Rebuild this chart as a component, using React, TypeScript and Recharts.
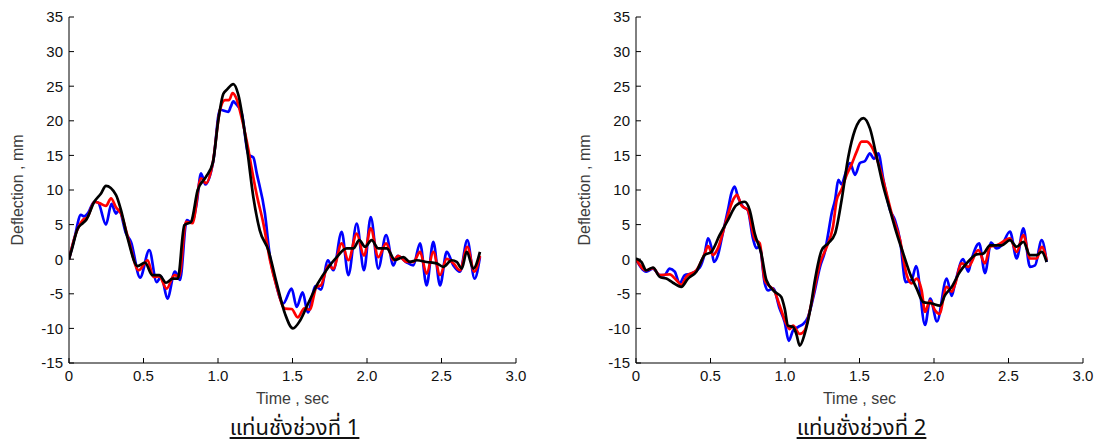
import React from 'react';
import { LineChart, Line, XAxis, YAxis } from 'recharts';

const X_TICKS = [0, 0.5, 1, 1.5, 2, 2.5, 3];
const Y_TICKS = [-15, -10, -5, 0, 5, 10, 15, 20, 25, 30, 35];
const X_TITLE = 'Time , sec';
const Y_TITLE = 'Deflection , mm';
const CAPTION_1 = 'แท่นชั่งช่วงที่ 1';
const CAPTION_2 = 'แท่นชั่งช่วงที่ 2';

// Panel 1 (t in sec, deflection in mm)
const p1Blue: [number, number][] = [
  [0, 0], [0.036, 3.0], [0.08, 6.4], [0.1, 6.2], [0.125, 6.6], [0.17, 8.3], [0.195, 8.2], [0.248, 5.0],
  [0.285, 8.0], [0.315, 6.6], [0.336, 7.1], [0.383, 3.7], [0.416, 2.5], [0.477, -2.65], [0.539, 1.3],
  [0.588, -3.3], [0.62, -2.5], [0.66, -5.7], [0.711, -1.8], [0.745, -3.0], [0.79, 5.65], [0.823, 5.3],
  [0.857, 8.1], [0.886, 12.4], [0.915, 10.8], [0.969, 14.3], [1.013, 21.6], [1.069, 21.3], [1.085, 22.0],
  [1.103, 22.8], [1.114, 22.6], [1.159, 21.1], [1.204, 15.1], [1.237, 14.7], [1.26, 12.4], [1.315, 6.6],
  [1.349, 0.3], [1.383, -3.0], [1.438, -6.4], [1.494, -4.25], [1.528, -6.9], [1.568, -4.8], [1.603, -7.7],
  [1.655, -3.9], [1.69, -4.4], [1.738, -0.15], [1.774, -1.6], [1.83, 3.95], [1.875, -2.3], [1.931, 5.15],
  [1.98, -1.6], [2.025, 6.1], [2.076, -1.35], [2.128, 3.5], [2.177, -0.9], [2.205, 0.5], [2.262, -0.4],
  [2.311, -0.9], [2.356, 2.3], [2.4, -3.8], [2.445, 2.5], [2.49, -3.8], [2.535, 1.05], [2.58, -0.9],
  [2.624, -1.8], [2.673, 2.75], [2.722, -2.8], [2.758, 0.3],
];
const p1Red: [number, number][] = [
  [0, 0], [0.04, 3.3], [0.092, 5.65], [0.125, 6.1], [0.17, 8.3], [0.204, 8.1], [0.248, 7.7], [0.282, 8.8],
  [0.315, 7.5], [0.349, 6.6], [0.394, 3.3], [0.468, -1.6], [0.528, -0.15], [0.566, -2.55], [0.606, -2.5],
  [0.655, -4.25], [0.707, -2.3], [0.74, -2.5], [0.785, 5.4], [0.828, 5.2], [0.886, 11.7], [0.919, 11.0],
  [0.964, 13.8], [1.013, 21.5], [1.047, 23.0], [1.074, 23.0], [1.098, 24.0], [1.12, 23.4], [1.159, 20.4],
  [1.204, 15.8], [1.226, 13.1], [1.26, 9.3], [1.304, 5.2], [1.349, -0.15], [1.394, -4.0], [1.45, -7.15],
  [1.494, -7.2], [1.535, -8.4], [1.58, -7.1], [1.615, -7.3], [1.662, -4.0], [1.69, -3.8], [1.741, -0.9],
  [1.774, -1.35], [1.83, 2.3], [1.875, -0.15], [1.931, 3.7], [1.98, 0.5], [2.025, 4.45], [2.076, 0.3],
  [2.128, 2.3], [2.177, -0.15], [2.21, 0.5], [2.266, -0.4], [2.311, -0.4], [2.356, 1.05], [2.4, -2.1],
  [2.445, 1.05], [2.49, -2.3], [2.535, 0.05], [2.58, -0.6], [2.624, -1.6], [2.673, 1.8], [2.72, -1.8],
  [2.758, 0.5],
];
const p1Black: [number, number][] = [
  [0, 0], [0.02, 1.5], [0.058, 4.4], [0.092, 5.2], [0.114, 5.65], [0.17, 8.3], [0.215, 9.5], [0.248, 10.6],
  [0.315, 9.3], [0.349, 7.1], [0.394, 3.0], [0.461, -1.0], [0.51, -0.5], [0.56, -2.3], [0.606, -2.3],
  [0.651, -3.4], [0.696, -2.8], [0.73, -2.8], [0.774, 4.9], [0.819, 5.4], [0.864, 10.0], [0.919, 11.9],
  [0.966, 14.0], [1.002, 20.1], [1.036, 23.9], [1.06, 24.5], [1.103, 25.3], [1.136, 23.8], [1.193, 16.3],
  [1.237, 9.0], [1.28, 4.2], [1.338, 1.3], [1.394, -3.5], [1.45, -7.9], [1.503, -10.0], [1.55, -8.9],
  [1.605, -6.4], [1.67, -3.5], [1.74, -1.2], [1.797, 0.3], [1.864, 1.55], [1.908, 1.55], [1.948, 2.75],
  [1.987, 1.8], [2.031, 2.75], [2.076, 1.55], [2.132, 1.55], [2.188, -0.1], [2.244, 0.3], [2.289, -0.4],
  [2.334, -0.15], [2.4, -0.4], [2.468, -0.6], [2.512, -1.1], [2.568, -0.15], [2.602, -0.4], [2.636, -1.35],
  [2.669, 1.05], [2.714, -1.35], [2.758, 1.05],
];

// Panel 2
const p2Blue: [number, number][] = [
  [0, 0], [0.069, -1.8], [0.114, -1.35], [0.159, -2.3], [0.19, -2.3], [0.226, -1.35], [0.26, -1.8],
  [0.293, -3.5], [0.327, -2.3], [0.37, -2.1], [0.428, -1.2], [0.461, 0.8], [0.483, 3.0], [0.505, 1.8],
  [0.523, -0.4], [0.55, 0.6], [0.58, 3.5], [0.617, 7.1], [0.64, 9.5], [0.662, 10.5], [0.684, 9.0],
  [0.718, 7.6], [0.75, 7.1], [0.785, 3.0], [0.808, 1.6], [0.83, 1.8], [0.864, -3.5], [0.886, -4.5],
  [0.92, -4.2], [0.964, -7.15], [0.998, -9.1], [1.025, -11.8], [1.054, -10.3], [1.087, -9.8], [1.12, -9.4],
  [1.154, -8.4], [1.19, -5.5], [1.235, -1.1], [1.27, 1.3], [1.29, 3.7], [1.313, 6.6], [1.336, 8.55],
  [1.358, 11.45], [1.38, 10.8], [1.403, 12.2], [1.436, 13.9], [1.47, 12.2], [1.503, 13.9], [1.537, 14.2],
  [1.57, 15.3], [1.597, 14.5], [1.626, 15.3], [1.66, 11.5], [1.705, 7.1], [1.738, 5.65], [1.772, 2.75],
  [1.81, -3.3], [1.85, -3.0], [1.88, -1.0], [1.94, -9.5], [1.975, -5.7], [2.02, -9.0], [2.085, -2.8],
  [2.119, -5.3], [2.14, -3.6], [2.195, 0.0], [2.23, -1.8], [2.25, -0.2], [2.303, 2.3], [2.342, -2.0],
  [2.383, 2.4], [2.42, 1.55], [2.454, 2.0], [2.51, 4.0], [2.555, 0.1], [2.6, 4.45], [2.644, -1.1],
  [2.678, -0.9], [2.723, 2.75], [2.756, -0.4],
];
const p2Red: [number, number][] = [
  [0, 0], [0.069, -1.6], [0.114, -1.3], [0.159, -2.3], [0.226, -2.2], [0.27, -3.0], [0.304, -3.7],
  [0.338, -2.5], [0.405, -1.6], [0.461, 0.8], [0.483, 1.9], [0.517, 0.6], [0.55, 1.6], [0.606, 5.65],
  [0.651, 8.55], [0.678, 9.3], [0.707, 7.8], [0.75, 7.1], [0.797, 2.9], [0.83, 2.3], [0.864, -3.0],
  [0.886, -3.7], [0.931, -4.7], [0.964, -6.7], [1.01, -9.4], [1.031, -10.1], [1.054, -9.6], [1.099, -10.8],
  [1.132, -10.3], [1.177, -6.4], [1.235, -0.6], [1.28, 1.8], [1.322, 4.7], [1.347, 8.55], [1.38, 10.1],
  [1.414, 12.2], [1.447, 13.7], [1.481, 15.55], [1.514, 17.0], [1.548, 17.0], [1.58, 16.3], [1.626, 13.9],
  [1.67, 10.5], [1.716, 6.6], [1.772, 2.75], [1.817, -2.3], [1.85, -3.5], [1.884, -2.8], [1.917, -4.5],
  [1.94, -7.6], [1.973, -6.0], [2.007, -7.4], [2.036, -7.9], [2.085, -4.0], [2.119, -4.7], [2.14, -3.7],
  [2.186, -0.6], [2.23, -1.1], [2.297, 1.3], [2.342, -0.6], [2.376, 1.8], [2.42, 2.0], [2.51, 3.0],
  [2.555, 1.05], [2.6, 3.5], [2.644, 0.1], [2.689, 0.1], [2.723, 1.8], [2.756, -0.15],
];
const p2Black: [number, number][] = [
  [0, 0.1], [0.036, -0.4], [0.069, -1.6], [0.114, -1.2], [0.159, -2.55], [0.204, -2.8], [0.248, -3.4],
  [0.304, -4.0], [0.349, -2.8], [0.405, -1.8], [0.461, 0.6], [0.505, 1.05], [0.562, 3.5], [0.617, 5.65],
  [0.673, 7.8], [0.729, 8.3], [0.763, 7.1], [0.797, 3.7], [0.841, 0.8], [0.875, -3.0], [0.931, -4.7],
  [0.975, -5.45], [0.998, -7.15], [1.02, -9.6], [1.054, -9.8], [1.076, -10.8], [1.099, -12.5],
  [1.132, -10.8], [1.17, -7.2], [1.201, -3.0], [1.246, 1.3], [1.29, 2.3], [1.336, 3.7], [1.38, 8.55],
  [1.425, 14.8], [1.47, 18.7], [1.526, 20.4], [1.57, 18.9], [1.615, 14.8], [1.66, 10.5], [1.705, 7.1],
  [1.75, 3.7], [1.794, 0.8], [1.839, -2.1], [1.884, -4.25], [1.928, -6.2], [1.985, -6.4], [2.04, -6.7],
  [2.074, -5.2], [2.119, -4.0], [2.174, -1.8], [2.219, -0.6], [2.286, 0.7], [2.33, 0.8], [2.376, 2.0],
  [2.454, 2.0], [2.51, 2.75], [2.555, 1.8], [2.6, 2.5], [2.644, 0.6], [2.689, 0.6], [2.723, 1.05],
  [2.756, -0.4],
];

const toPts = (arr: [number, number][]) => arr.map(([t, v]) => ({ t, v }));
const FONT = 'Arial, "Liberation Sans", Helvetica, sans-serif';

const XTitle = (props: any) => {
  const vb = props.viewBox || {};
  return (
    <text x={vb.x + vb.width / 2} y={404} textAnchor="middle" fontSize={16} fontFamily={FONT} fill="#3c3c3c">
      {X_TITLE}
    </text>
  );
};

const YTitle = (props: any) => {
  const vb = props.viewBox || {};
  const cy = vb.y + vb.height / 2;
  return (
    <text x={23} y={cy} transform={`rotate(-90 23 ${cy})`} textAnchor="middle" fontSize={16} fontFamily={FONT} fill="#3c3c3c">
      {Y_TITLE}
    </text>
  );
};

const fmtX = (v: number) => (v === 0 ? '0' : v.toFixed(1));

function Panel({ left, blue, red, black, caption }: any) {
  return (
    <div style={{ position: 'absolute', left, top: 0, width: 530, height: 446 }}>
      <LineChart width={530} height={446} margin={{ top: 17, right: 14, bottom: 53, left: 0 }}>
        <XAxis
          type="number"
          dataKey="t"
          domain={[0, 3]}
          ticks={X_TICKS}
          interval={0}
          allowDataOverflow
          tickFormatter={fmtX}
          tickSize={-5}
          tickMargin={12}
          height={30}
          stroke="#000"
          tick={{ fill: '#111', fontSize: 15, fontFamily: FONT }}
          label={{ content: XTitle }}
        />
        <YAxis
          type="number"
          domain={[-15, 35]}
          ticks={Y_TICKS}
          interval={0}
          allowDataOverflow
          tickSize={-5}
          tickMargin={11}
          width={69}
          stroke="#000"
          tick={{ fill: '#111', fontSize: 15, fontFamily: FONT }}
          label={{ content: YTitle }}
        />
        <Line data={toPts(blue)} dataKey="v" type="monotone" stroke="#0000ff" strokeWidth={2.7} dot={false} isAnimationActive={false} />
        <Line data={toPts(red)} dataKey="v" type="monotone" stroke="#ff0000" strokeWidth={2.7} dot={false} isAnimationActive={false} />
        <Line data={toPts(black)} dataKey="v" type="monotone" stroke="#000000" strokeWidth={2.7} dot={false} isAnimationActive={false} />
      </LineChart>
      <div
        style={{
          position: 'absolute',
          left: 0,
          width: 520,
          top: 416,
          paddingLeft: 69,
          boxSizing: 'border-box',
          textAlign: 'center',
          fontSize: 22,
          lineHeight: '26px',
          fontFamily: '"Noto Sans Thai", "Noto Sans", "DejaVu Sans", sans-serif',
          textDecoration: 'underline',
          color: '#111',
        }}
      >
        {caption}
      </div>
    </div>
  );
}

export default function App() {
  return (
    <div style={{ position: 'absolute', left: 0, top: 0, width: 1101, height: 446, background: '#fff', overflow: 'hidden' }}>
      <Panel left={0} blue={p1Blue} red={p1Red} black={p1Black} caption={CAPTION_1} />
      <Panel left={567} blue={p2Blue} red={p2Red} black={p2Black} caption={CAPTION_2} />
    </div>
  );
}
